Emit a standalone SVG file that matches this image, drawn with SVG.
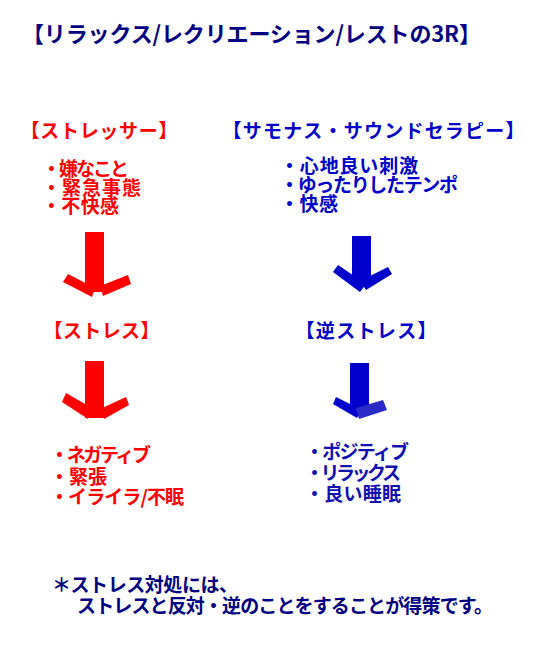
<svg xmlns="http://www.w3.org/2000/svg" width="540" height="653" viewBox="0 0 540 653">
<style>
text{font-family:"Noto Sans CJK JP","Noto Sans CJK SC",sans-serif;font-weight:bold;}
.t{font-size:22px;fill:#000080;}
.h{font-size:19px;}
.b{font-size:19px;}
.red{fill:#ff0000;}
.blu{fill:#0000c8;}
.blu2{fill:#1111b0;}
.navy{fill:#000080;}
.ar{fill:#ff0000;}
.ab{fill:#0000cc;}
.ab2{fill:#2a2ac8;}
</style>
<rect width="540" height="653" fill="#ffffff"/>
<g id="title"><text class="t" x="22" y="41.5" textLength="459">【リラックス/レクリエーション/レストの3R】</text></g>
<g id="stressor">
<text class="h red" x="20.5" y="138" textLength="157">【ストレッサー】</text>
<text class="b red" x="42" y="176" textLength="87">・嫌なこと</text>
<text class="b red" x="42" y="195" textLength="99">・緊急事態</text>
<text class="b red" x="42" y="213" textLength="77">・不快感</text>
</g>
<g id="therapy">
<text class="h blu" x="222.5" y="138" textLength="302">【サモナス・サウンドセラピー】</text>
<text class="b blu" x="280" y="173" textLength="138">・心地良い刺激</text>
<text class="b blu" x="280" y="192" textLength="178">・ゆったりしたテンポ</text>
<text class="b blu" x="280" y="211" textLength="58">・快感</text>
</g>
<g id="stress"><text class="h red" x="43.5" y="338" textLength="116">【ストレス】</text></g>
<g id="anti-stress"><text class="h blu" x="295.5" y="338" textLength="141">【逆ストレス】</text></g>
<g id="negative">
<text class="b red" x="50" y="462" textLength="101">・ネガティブ</text>
<text class="b red" x="50" y="484" textLength="57">・緊張</text>
<text class="b red" x="50" y="504" textLength="134">・イライラ/不眠</text>
</g>
<g id="positive">
<text class="b blu2" x="305" y="459" textLength="104">・ポジティブ</text>
<text class="b blu2" x="305" y="480" textLength="96">・リラックス</text>
<text class="b blu2" x="305" y="501" textLength="96">・良い睡眠</text>
</g>
<g id="note">
<text class="b navy" x="52" y="592" textLength="186">＊ストレス対処には、</text>
<text class="b navy" x="77" y="613" textLength="416">ストレスと反対・逆のことをすることが得策です。</text>
</g>
<g id="connectors">
<g id="arrow-red-1" class="ar">
<rect x="85" y="232" width="19" height="60"/>
<polygon points="68,274 95,288 92,297 63,282"/>
<polygon points="100,286 128,275 131,284 103,296"/>
</g>
<g id="arrow-red-2" class="ar">
<rect x="85" y="361" width="19" height="57"/>
<polygon points="66,393 92,408 88,419 62,402"/>
<polygon points="100,409 126,397 129,405 104,419"/>
</g>
<g id="arrow-blue-1" class="ab">
<rect x="352" y="236" width="19" height="48"/>
<polygon points="338,265 366,284 360,292 333,272"/>
<polygon points="360,281 388,267 392,274 366,290"/>
</g>
<g id="arrow-blue-2">
<rect class="ab" x="350" y="363" width="19" height="45"/>
<polygon class="ab" points="336,397 362,410 357,418 333,404"/>
<polygon class="ab2" points="356,408 383,400 387,410 359,419"/>
</g>
</g>
</svg>
